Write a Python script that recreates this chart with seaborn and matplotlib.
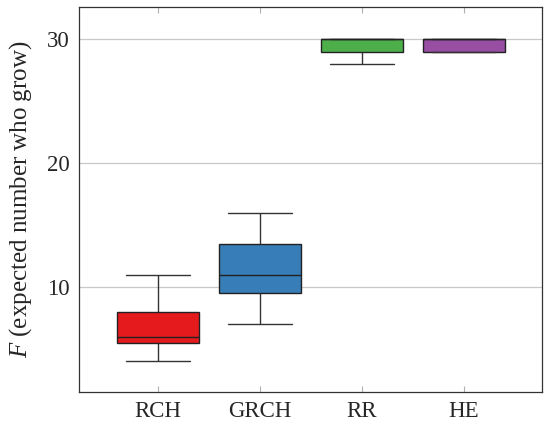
import matplotlib
matplotlib.use("Agg")
import matplotlib.pyplot as plt
import seaborn as sns
import pandas as pd

# Data (samples reproducing the boxplot statistics)
categories = ["RCH", "GRCH", "RR", "HE"]
rch_values = [4, 5.5, 6, 8, 11]
grch_values = [7, 9.5, 11, 13.5, 16]
rr_values = [28, 29, 30, 30, 30]
he_values = [29, 29, 30, 30, 30]
colors = ["#E41A1C", "#377EB8", "#4DAF4A", "#984EA3"]
y_ticks = [10, 20, 30]

series = [rch_values, grch_values, rr_values, he_values]
df = pd.DataFrame({
    "method": [c for c, vals in zip(categories, series) for _ in vals],
    "F": [v for vals in series for v in vals],
})

sns.set_style("white")
plt.rcParams["font.family"] = ["Liberation Serif", "DejaVu Serif"]
plt.rcParams["mathtext.fontset"] = "custom"
plt.rcParams["mathtext.it"] = "Liberation Serif:italic"
plt.rcParams["mathtext.rm"] = "Liberation Serif"

fig = plt.figure(figsize=(5.5, 4.23), dpi=100)
ax = fig.add_axes([0.1436, 0.074, 0.842, 0.9095])

edge = "#222222"
sns.boxplot(
    data=df, x="method", y="F", hue="method", order=categories,
    hue_order=categories, palette=colors, legend=False, width=0.8,
    whis=1.5, showfliers=False, linewidth=1.0, linecolor=edge,
    saturation=1, ax=ax, capwidths=0.63,
    whiskerprops={"color": "#333333", "linewidth": 1.0},
    capprops={"color": "#333333", "linewidth": 1.0},
    medianprops={"color": edge, "linewidth": 1.0},
)

ax.set_xlim(-0.775, 3.765)
ax.set_ylim(1.55, 32.6)
ax.set_yticks(y_ticks)
ax.yaxis.grid(True, color="#c8c8c8", linewidth=0.9)
ax.set_axisbelow(True)
ax.set_xlabel("")
ax.set_ylabel("$F$ (expected number who grow)", fontsize=18, labelpad=9)
ax.tick_params(axis="x", direction="in", top=True, bottom=True, length=4,
               color="#b0b0b0", labelsize=16.5, pad=7)
ax.tick_params(axis="y", direction="in", length=0, labelsize=16.5, pad=7)
for s in ax.spines.values():
    s.set_color("#333333")
    s.set_linewidth(0.9)

fig.savefig("out.png", dpi=100)
